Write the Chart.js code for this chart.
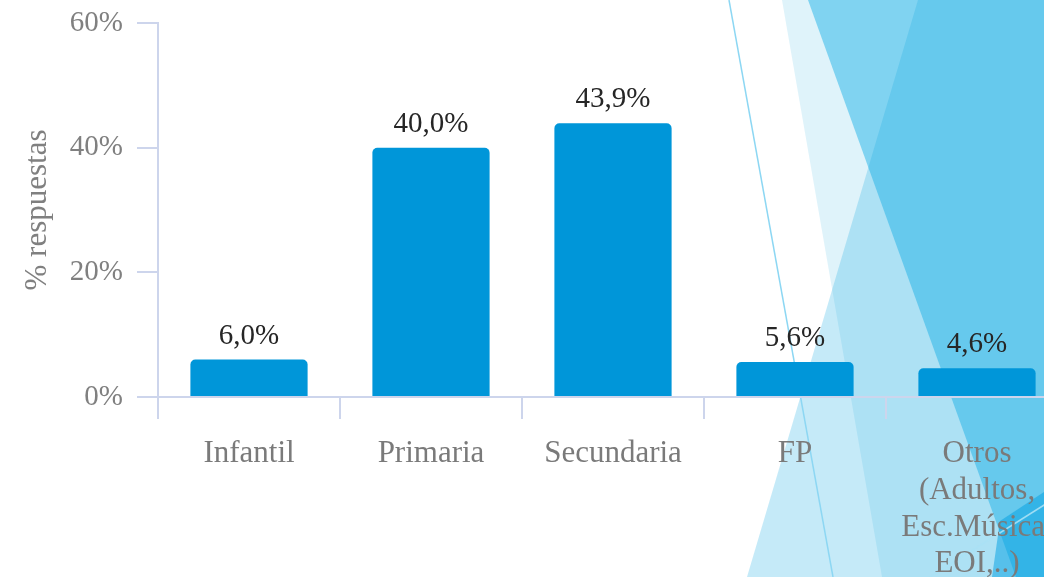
<!DOCTYPE html>
<html>
<head>
<meta charset="utf-8">
<script src="https://cdn.jsdelivr.net/npm/chart.js@4/dist/chart.umd.min.js"></script>
<style>
  html, body { margin: 0; padding: 0; background: #fff; overflow: hidden; }
  #wrap { position: relative; width: 1080px; height: 577px; }
</style>
</head>
<body>
<div id="wrap"><canvas id="levels-chart" width="1080" height="577"></canvas></div>
<script>
// categories and values (% of answers)
let categories = ['Infantil', 'Primaria', 'Secundaria', 'FP', ['Otros', '(Adultos,', 'Esc.Música,', 'EOI,..)']]
let percentages = [6.0, 40.0, 43.9, 5.6, 4.6]
let yTicks = [0, 20, 40, 60]

let serif = "'Liberation Serif', 'DejaVu Serif', serif"

// slide decoration on the right (triangles of the theme)
let slideShapes = {
    id: 'slideShapes',
    beforeDraw(chart) {
        let c = chart.ctx
        let poly = function (pts, color) {
            c.beginPath()
            c.moveTo(pts[0][0], pts[0][1])
            for (let k = 1; k < pts.length; k++) c.lineTo(pts[k][0], pts[k][1])
            c.closePath()
            c.fillStyle = color
            c.fill()
        }
        c.save()
        c.fillStyle = '#fff'
        c.fillRect(0, 0, chart.width, chart.height)
        poly([[782, 0], [1100, 0], [1100, 577], [882, 577]], 'rgba(150,215,240,0.3)')
        poly([[808, 0], [1100, 0], [1100, 577], [1016, 577]], 'rgba(80,195,235,0.67)')
        poly([[918, 0], [1100, 0], [1100, 577], [747, 577]], 'rgba(23,171,227,0.25)')
        poly([[1000, 521], [1044, 492], [1100, 470], [1100, 577], [992, 577]], 'rgba(0,160,225,0.5)')
        c.lineWidth = 1.5
        c.strokeStyle = '#8dd7f3'
        c.beginPath(); c.moveTo(729, 0); c.lineTo(833, 577); c.stroke()
        c.strokeStyle = 'rgba(170,225,245,0.9)'
        c.beginPath(); c.moveTo(930, 577); c.lineTo(1060, 495); c.stroke()
        c.restore()
    }
}

// value labels above the bars
let valueLabels = {
    id: 'valueLabels',
    afterDatasetsDraw(chart) {
        let c = chart.ctx
        let meta = chart.getDatasetMeta(0)
        c.save()
        c.font = '29px ' + serif
        c.fillStyle = '#262626'
        c.textAlign = 'center'
        c.textBaseline = 'alphabetic'
        meta.data.forEach(function (bar, i) {
            let txt = percentages[i].toFixed(1).replace('.', ',') + '%'
            c.fillText(txt, bar.x, bar.y - 16)
        })
        c.restore()
    }
}

let axisColor = '#cdd5ec'

let ctx = document.querySelector('#levels-chart').getContext('2d')

chart = new Chart(ctx, {
    type: 'bar',
    data: {
        labels: categories,
        datasets: [{
            data: percentages,
            backgroundColor: '#0096d9',
            borderRadius: { topLeft: 5, topRight: 5, bottomLeft: 0, bottomRight: 0 },
            borderSkipped: 'bottom',
            barPercentage: 0.644,
            categoryPercentage: 1
        }]
    },
    options: {
        responsive: false,
        animation: false,
        devicePixelRatio: 1,
        layout: { padding: { top: 23, right: 12, bottom: 0, left: 1 } },
        plugins: { legend: { display: false }, tooltip: { enabled: false } },
        scales: {
            x: {
                grid: { display: true, drawOnChartArea: false, offset: true, color: axisColor, lineWidth: 2, tickLength: 22 },
                border: { color: axisColor, width: 2 },
                ticks: {
                    color: '#7a7a7a',
                    font: { family: serif, size: 31, lineHeight: 1.18 },
                    padding: 17,
                    maxRotation: 0,
                    autoSkip: false
                },
                afterFit: function (s) { s.height = 180; s.paddingLeft = 0; s.paddingRight = 0 }
            },
            y: {
                min: 0,
                max: 60,
                afterBuildTicks: function (s) { s.ticks = yTicks.map(v => ({ value: v })) },
                grid: { display: true, drawOnChartArea: false, color: axisColor, lineWidth: 2, tickLength: 21 },
                border: { color: axisColor, width: 2 },
                ticks: {
                    color: '#808080',
                    font: { family: serif, size: 29 },
                    padding: 14,
                    callback: v => v + '%'
                },
                title: {
                    display: true,
                    text: '% respuestas',
                    color: '#808080',
                    font: { family: serif, size: 31 },
                    padding: { top: 18, bottom: 0 }
                },
                afterFit: function (s) { s.width = 157; s.paddingTop = 0; s.paddingBottom = 0 }
            }
        }
    },
    plugins: [slideShapes, valueLabels]
})
</script>
</body>
</html>
